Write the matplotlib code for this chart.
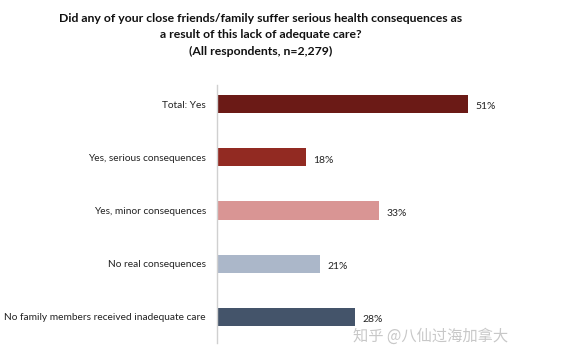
import matplotlib
matplotlib.use("Agg")
import matplotlib.pyplot as plt

# Data
categories = ["Total: Yes", "Yes, serious consequences", "Yes, minor consequences",
              "No real consequences", "No family members received inadequate care"]
values = [51, 18, 33, 21, 28]
colors = ["#6B1A16", "#922A22", "#D99594", "#ABB7C9", "#44546A"]
title = ("Did any of your close friends/family suffer serious health consequences as\n"
         "a result of this lack of adequate care?\n(All respondents, n=2,279)")
watermark = "知乎 @八仙过海加拿大"

plt.rcParams['font.family'] = ['Lato', 'DejaVu Sans']

fig = plt.figure(figsize=(5.64, 3.58), dpi=100)
ax = fig.add_axes([217 / 564, 1 - 343 / 358, 0.58, (343 - 85) / 358])

ypos = list(range(len(categories)))
ax.barh(ypos, values, height=0.34, color=colors)
for y, v in zip(ypos, values):
    ax.text(v + 1.5, y + 0.05, f"{v}%", va="center", ha="left", fontsize=7.5, color="#222222")

ax.set_xlim(0, 66.5)
ax.set_ylim(4.49, -0.36)
ax.set_yticks(ypos)
ax.set_yticklabels(categories, fontsize=7.3, color="#222222")
ax.tick_params(axis="y", length=0, pad=8)
ax.set_xticks([])
for s in ["top", "right", "bottom"]:
    ax.spines[s].set_visible(False)
ax.spines["left"].set_color("#D0D0D0")
ax.spines["left"].set_linewidth(1.0)

fig.text(261 / 564, 1 - 13 / 358, title, ha="center", va="top", fontsize=8.8,
         fontweight="bold", linespacing=1.6, color="#111111")

fig.text(508 / 564, 1 - 336 / 358, watermark, ha="right", va="center", fontsize=11,
         color="#C8C8C8", family=['Noto Sans CJK SC', 'DejaVu Sans'])

fig.savefig("out.png", dpi=100)
